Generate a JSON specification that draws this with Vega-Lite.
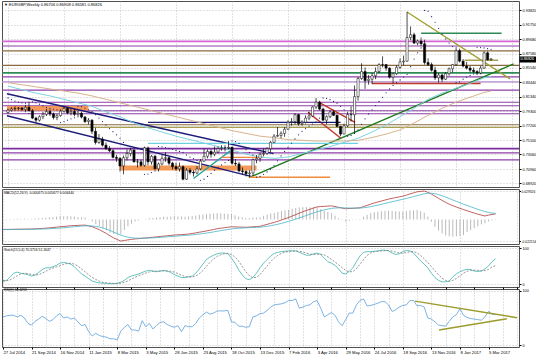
{
"$schema": "https://vega.github.io/schema/vega-lite/v6.json",
"background": "white",
"padding": 0,
"spacing": 2,
"bounds": "flush",
"config": {
  "font": "Liberation Sans",
  "view": {"stroke": "#505050", "strokeWidth": 1},
  "axis": {"labelFont": "Liberation Sans", "labelColor": "#000000"},
  "title": {"font": "Liberation Sans", "fontWeight": "normal", "color": "#000000", "anchor": "start", "frame": "group", "orient": "top"}
},
"datasets": {
"wk": [
{"d":"2014-07-27","o":0.7910,"h":0.7965,"l":0.7895,"c":0.7945,"sar":0.8120,"m":-0.0103,"s":-0.0104,"hi":0.0003,"k":8,"dd":9,"rsi":52},
{"d":"2014-08-03","o":0.7945,"h":0.7985,"l":0.7925,"c":0.7965,"sar":0.8095,"m":-0.0102,"s":-0.0104,"hi":0.0005,"k":10,"dd":9,"rsi":54},
{"d":"2014-08-10","o":0.7965,"h":0.8000,"l":0.7935,"c":0.7970,"sar":0.8075,"m":-0.0102,"s":-0.0103,"hi":0.0003,"k":20,"dd":11.5,"rsi":55},
{"d":"2014-08-17","o":0.7970,"h":0.7990,"l":0.7940,"c":0.7975,"sar":0.8060,"m":-0.0101,"s":-0.0103,"hi":0.0005,"k":30,"dd":17,"rsi":55},
{"d":"2014-08-24","o":0.7975,"h":0.7990,"l":0.7930,"c":0.7955,"sar":0.8050,"m":-0.0100,"s":-0.0103,"hi":0.0008,"k":33,"dd":23,"rsi":52},
{"d":"2014-08-31","o":0.7955,"h":0.8020,"l":0.7915,"c":0.7985,"sar":0.8045,"m":-0.0100,"s":-0.0102,"hi":0.0005,"k":30,"dd":28,"rsi":55},
{"d":"2014-09-07","o":0.7985,"h":0.8065,"l":0.7930,"c":0.7935,"sar":0.7895,"m":-0.0099,"s":-0.0102,"hi":0.0008,"k":28,"dd":30,"rsi":50},
{"d":"2014-09-14","o":0.7935,"h":0.7960,"l":0.7815,"c":0.7830,"sar":0.8065,"m":-0.0099,"s":-0.0101,"hi":0.0005,"k":26,"dd":29,"rsi":40},
{"d":"2014-09-21","o":0.7830,"h":0.7850,"l":0.7765,"c":0.7800,"sar":0.8050,"m":-0.0098,"s":-0.0100,"hi":0.0005,"k":22,"dd":26.5,"rsi":37},
{"d":"2014-09-28","o":0.7800,"h":0.7870,"l":0.7780,"c":0.7850,"sar":0.8030,"m":-0.0096,"s":-0.0100,"hi":0.0010,"k":25,"dd":25,"rsi":44},
{"d":"2014-10-05","o":0.7850,"h":0.7920,"l":0.7815,"c":0.7885,"sar":0.8005,"m":-0.0094,"s":-0.0099,"hi":0.0013,"k":32,"dd":26,"rsi":48},
{"d":"2014-10-12","o":0.7885,"h":0.7965,"l":0.7860,"c":0.7925,"sar":0.7985,"m":-0.0092,"s":-0.0098,"hi":0.0015,"k":40,"dd":30,"rsi":53},
{"d":"2014-10-19","o":0.7925,"h":0.7955,"l":0.7860,"c":0.7890,"sar":0.7970,"m":-0.0090,"s":-0.0097,"hi":0.0018,"k":45,"dd":35.5,"rsi":49},
{"d":"2014-10-26","o":0.7890,"h":0.7910,"l":0.7810,"c":0.7840,"sar":0.7960,"m":-0.0086,"s":-0.0095,"hi":0.0023,"k":45,"dd":40.5,"rsi":44},
{"d":"2014-11-02","o":0.7840,"h":0.7890,"l":0.7800,"c":0.7865,"sar":0.7950,"m":-0.0083,"s":-0.0093,"hi":0.0025,"k":48,"dd":44.5,"rsi":47},
{"d":"2014-11-09","o":0.7865,"h":0.7955,"l":0.7850,"c":0.7930,"sar":0.7765,"m":-0.0079,"s":-0.0091,"hi":0.0030,"k":52,"dd":47.5,"rsi":54},
{"d":"2014-11-16","o":0.7930,"h":0.8000,"l":0.7910,"c":0.7970,"sar":0.7780,"m":-0.0075,"s":-0.0088,"hi":0.0033,"k":58,"dd":50.75,"rsi":58},
{"d":"2014-11-23","o":0.7970,"h":0.7985,"l":0.7885,"c":0.7905,"sar":0.7800,"m":-0.0072,"s":-0.0085,"hi":0.0033,"k":60,"dd":54.5,"rsi":50},
{"d":"2014-11-30","o":0.7905,"h":0.7965,"l":0.7870,"c":0.7925,"sar":0.7820,"m":-0.0068,"s":-0.0082,"hi":0.0035,"k":58,"dd":57,"rsi":52},
{"d":"2014-12-07","o":0.7925,"h":0.7960,"l":0.7855,"c":0.7885,"sar":0.7835,"m":-0.0065,"s":-0.0078,"hi":0.0033,"k":55,"dd":57.75,"rsi":48},
{"d":"2014-12-14","o":0.7885,"h":0.7935,"l":0.7840,"c":0.7900,"sar":0.8000,"m":-0.0062,"s":-0.0074,"hi":0.0030,"k":48,"dd":55.25,"rsi":50},
{"d":"2014-12-21","o":0.7900,"h":0.7920,"l":0.7825,"c":0.7845,"sar":0.7995,"m":-0.0061,"s":-0.0071,"hi":0.0025,"k":38,"dd":49.75,"rsi":43},
{"d":"2014-12-28","o":0.7845,"h":0.7860,"l":0.7760,"c":0.7780,"sar":0.7975,"m":-0.0059,"s":-0.0068,"hi":0.0023,"k":28,"dd":42.25,"rsi":36},
{"d":"2015-01-04","o":0.7780,"h":0.7830,"l":0.7740,"c":0.7800,"sar":0.7950,"m":-0.0058,"s":-0.0066,"hi":0.0020,"k":22,"dd":34,"rsi":38},
{"d":"2015-01-11","o":0.7800,"h":0.7815,"l":0.7600,"c":0.7640,"sar":0.7925,"m":-0.0066,"s":-0.0065,"hi":-0.0003,"k":15,"dd":25.75,"rsi":25},
{"d":"2015-01-18","o":0.7640,"h":0.7690,"l":0.7450,"c":0.7480,"sar":0.7880,"m":-0.0075,"s":-0.0067,"hi":-0.0020,"k":8,"dd":18.25,"rsi":17},
{"d":"2015-01-25","o":0.7480,"h":0.7600,"l":0.7460,"c":0.7525,"sar":0.7830,"m":-0.0090,"s":-0.0071,"hi":-0.0048,"k":5,"dd":12.5,"rsi":22},
{"d":"2015-02-01","o":0.7525,"h":0.7560,"l":0.7420,"c":0.7440,"sar":0.7780,"m":-0.0105,"s":-0.0078,"hi":-0.0068,"k":3,"dd":7.75,"rsi":18},
{"d":"2015-02-08","o":0.7440,"h":0.7480,"l":0.7370,"c":0.7390,"sar":0.7730,"m":-0.0125,"s":-0.0088,"hi":-0.0093,"k":2,"dd":4.5,"rsi":16},
{"d":"2015-02-15","o":0.7390,"h":0.7430,"l":0.7340,"c":0.7360,"sar":0.7680,"m":-0.0145,"s":-0.0100,"hi":-0.0113,"k":2,"dd":3,"rsi":15},
{"d":"2015-02-22","o":0.7360,"h":0.7380,"l":0.7250,"c":0.7265,"sar":0.7635,"m":-0.0168,"s":-0.0114,"hi":-0.0135,"k":1,"dd":2,"rsi":12},
{"d":"2015-03-01","o":0.7265,"h":0.7300,"l":0.7200,"c":0.7250,"sar":0.7590,"m":-0.0190,"s":-0.0130,"hi":-0.0150,"k":1,"dd":1.5,"rsi":12},
{"d":"2015-03-08","o":0.7250,"h":0.7270,"l":0.7060,"c":0.7140,"sar":0.7540,"m":-0.0206,"s":-0.0146,"hi":-0.0150,"k":2,"dd":1.5,"rsi":10},
{"d":"2015-03-15","o":0.7140,"h":0.7290,"l":0.7020,"c":0.7260,"sar":0.7480,"m":-0.0222,"s":-0.0161,"hi":-0.0153,"k":5,"dd":2.25,"rsi":26},
{"d":"2015-03-22","o":0.7260,"h":0.7380,"l":0.7220,"c":0.7320,"sar":0.7435,"m":-0.0216,"s":-0.0173,"hi":-0.0108,"k":10,"dd":4.5,"rsi":33},
{"d":"2015-03-29","o":0.7320,"h":0.7400,"l":0.7280,"c":0.7370,"sar":0.7420,"m":-0.0210,"s":-0.0182,"hi":-0.0070,"k":18,"dd":8.75,"rsi":38},
{"d":"2015-04-05","o":0.7370,"h":0.7380,"l":0.7190,"c":0.7200,"sar":0.7405,"m":-0.0205,"s":-0.0188,"hi":-0.0043,"k":22,"dd":13.75,"rsi":28},
{"d":"2015-04-12","o":0.7200,"h":0.7240,"l":0.7120,"c":0.7200,"sar":0.7390,"m":-0.0200,"s":-0.0192,"hi":-0.0020,"k":25,"dd":18.75,"rsi":28},
{"d":"2015-04-19","o":0.7200,"h":0.7230,"l":0.7130,"c":0.7150,"sar":0.7380,"m":-0.0197,"s":-0.0193,"hi":-0.0010,"k":28,"dd":23.25,"rsi":26},
{"d":"2015-04-26","o":0.7150,"h":0.7420,"l":0.7130,"c":0.7400,"sar":0.7020,"m":-0.0193,"s":-0.0193,"hi":0.0000,"k":32,"dd":26.75,"rsi":45},
{"d":"2015-05-03","o":0.7400,"h":0.7420,"l":0.7150,"c":0.7200,"sar":0.7025,"m":-0.0190,"s":-0.0192,"hi":0.0005,"k":36,"dd":30.25,"rsi":34},
{"d":"2015-05-10","o":0.7200,"h":0.7300,"l":0.7160,"c":0.7280,"sar":0.7045,"m":-0.0186,"s":-0.0191,"hi":0.0013,"k":38,"dd":33.5,"rsi":40},
{"d":"2015-05-17","o":0.7280,"h":0.7300,"l":0.7090,"c":0.7100,"sar":0.7070,"m":-0.0183,"s":-0.0189,"hi":0.0015,"k":36,"dd":35.5,"rsi":30},
{"d":"2015-05-24","o":0.7100,"h":0.7190,"l":0.7060,"c":0.7170,"sar":0.7420,"m":-0.0179,"s":-0.0187,"hi":0.0020,"k":34,"dd":36,"rsi":36},
{"d":"2015-05-31","o":0.7170,"h":0.7300,"l":0.7150,"c":0.7250,"sar":0.7415,"m":-0.0175,"s":-0.0184,"hi":0.0023,"k":36,"dd":36,"rsi":42},
{"d":"2015-06-07","o":0.7250,"h":0.7340,"l":0.7200,"c":0.7260,"sar":0.7405,"m":-0.0171,"s":-0.0182,"hi":0.0028,"k":38,"dd":36,"rsi":43},
{"d":"2015-06-14","o":0.7260,"h":0.7280,"l":0.7150,"c":0.7180,"sar":0.7395,"m":-0.0168,"s":-0.0179,"hi":0.0028,"k":36,"dd":36,"rsi":38},
{"d":"2015-06-21","o":0.7180,"h":0.7200,"l":0.7090,"c":0.7130,"sar":0.7380,"m":-0.0164,"s":-0.0176,"hi":0.0030,"k":32,"dd":35.5,"rsi":35},
{"d":"2015-06-28","o":0.7130,"h":0.7190,"l":0.7070,"c":0.7100,"sar":0.7365,"m":-0.0160,"s":-0.0173,"hi":0.0033,"k":26,"dd":33,"rsi":33},
{"d":"2015-07-05","o":0.7100,"h":0.7190,"l":0.7060,"c":0.7130,"sar":0.7350,"m":-0.0158,"s":-0.0170,"hi":0.0030,"k":22,"dd":29,"rsi":36},
{"d":"2015-07-12","o":0.7130,"h":0.7150,"l":0.6935,"c":0.6950,"sar":0.7335,"m":-0.0155,"s":-0.0167,"hi":0.0030,"k":18,"dd":24.5,"rsi":25},
{"d":"2015-07-19","o":0.6950,"h":0.7110,"l":0.6940,"c":0.7080,"sar":0.7300,"m":-0.0153,"s":-0.0164,"hi":0.0028,"k":18,"dd":21,"rsi":36},
{"d":"2015-07-26","o":0.7080,"h":0.7110,"l":0.7020,"c":0.7050,"sar":0.7270,"m":-0.0150,"s":-0.0162,"hi":0.0030,"k":20,"dd":19.5,"rsi":34},
{"d":"2015-08-02","o":0.7050,"h":0.7080,"l":0.6990,"c":0.7040,"sar":0.7245,"m":-0.0144,"s":-0.0158,"hi":0.0035,"k":22,"dd":19.5,"rsi":34},
{"d":"2015-08-09","o":0.7040,"h":0.7140,"l":0.7020,"c":0.7100,"sar":0.7220,"m":-0.0138,"s":-0.0154,"hi":0.0040,"k":30,"dd":22.5,"rsi":40},
{"d":"2015-08-16","o":0.7100,"h":0.7240,"l":0.7080,"c":0.7210,"sar":0.6935,"m":-0.0131,"s":-0.0150,"hi":0.0048,"k":42,"dd":28.5,"rsi":50},
{"d":"2015-08-23","o":0.7210,"h":0.7390,"l":0.7200,"c":0.7280,"sar":0.6950,"m":-0.0125,"s":-0.0145,"hi":0.0050,"k":55,"dd":37.25,"rsi":56},
{"d":"2015-08-30","o":0.7280,"h":0.7380,"l":0.7250,"c":0.7350,"sar":0.6990,"m":-0.0118,"s":-0.0140,"hi":0.0055,"k":68,"dd":49.25,"rsi":61},
{"d":"2015-09-06","o":0.7350,"h":0.7380,"l":0.7260,"c":0.7310,"sar":0.7035,"m":-0.0110,"s":-0.0134,"hi":0.0060,"k":75,"dd":60,"rsi":57},
{"d":"2015-09-13","o":0.7310,"h":0.7420,"l":0.7280,"c":0.7340,"sar":0.7080,"m":-0.0103,"s":-0.0128,"hi":0.0063,"k":80,"dd":69.5,"rsi":59},
{"d":"2015-09-20","o":0.7340,"h":0.7420,"l":0.7320,"c":0.7390,"sar":0.7120,"m":-0.0095,"s":-0.0121,"hi":0.0065,"k":84,"dd":76.75,"rsi":63},
{"d":"2015-09-27","o":0.7390,"h":0.7440,"l":0.7360,"c":0.7400,"sar":0.7155,"m":-0.0090,"s":-0.0115,"hi":0.0063,"k":86,"dd":81.25,"rsi":63},
{"d":"2015-10-04","o":0.7400,"h":0.7440,"l":0.7350,"c":0.7400,"sar":0.7190,"m":-0.0085,"s":-0.0109,"hi":0.0060,"k":86,"dd":84,"rsi":63},
{"d":"2015-10-11","o":0.7400,"h":0.7500,"l":0.7380,"c":0.7410,"sar":0.7220,"m":-0.0080,"s":-0.0103,"hi":0.0058,"k":84,"dd":85,"rsi":64},
{"d":"2015-10-18","o":0.7410,"h":0.7420,"l":0.7160,"c":0.7180,"sar":0.7500,"m":-0.0075,"s":-0.0097,"hi":0.0055,"k":72,"dd":82,"rsi":43},
{"d":"2015-10-25","o":0.7180,"h":0.7240,"l":0.7140,"c":0.7170,"sar":0.7490,"m":-0.0076,"s":-0.0093,"hi":0.0043,"k":58,"dd":75,"rsi":42},
{"d":"2015-11-01","o":0.7170,"h":0.7200,"l":0.7050,"c":0.7070,"sar":0.7465,"m":-0.0078,"s":-0.0090,"hi":0.0030,"k":40,"dd":64,"rsi":35},
{"d":"2015-11-08","o":0.7070,"h":0.7120,"l":0.7020,"c":0.7060,"sar":0.7420,"m":-0.0079,"s":-0.0088,"hi":0.0023,"k":25,"dd":48.75,"rsi":35},
{"d":"2015-11-15","o":0.7060,"h":0.7080,"l":0.6990,"c":0.7030,"sar":0.7375,"m":-0.0080,"s":-0.0086,"hi":0.0015,"k":15,"dd":34.5,"rsi":33},
{"d":"2015-11-22","o":0.7030,"h":0.7080,"l":0.6980,"c":0.7040,"sar":0.7335,"m":-0.0078,"s":-0.0084,"hi":0.0015,"k":12,"dd":23,"rsi":34},
{"d":"2015-11-29","o":0.7040,"h":0.7250,"l":0.7000,"c":0.7230,"sar":0.7300,"m":-0.0075,"s":-0.0083,"hi":0.0020,"k":18,"dd":17.5,"rsi":52},
{"d":"2015-12-06","o":0.7230,"h":0.7300,"l":0.7180,"c":0.7250,"sar":0.6980,"m":-0.0073,"s":-0.0081,"hi":0.0020,"k":30,"dd":18.75,"rsi":54},
{"d":"2015-12-13","o":0.7250,"h":0.7330,"l":0.7200,"c":0.7310,"sar":0.6990,"m":-0.0070,"s":-0.0079,"hi":0.0023,"k":45,"dd":26.25,"rsi":58},
{"d":"2015-12-20","o":0.7310,"h":0.7390,"l":0.7280,"c":0.7320,"sar":0.7020,"m":-0.0060,"s":-0.0075,"hi":0.0038,"k":58,"dd":37.75,"rsi":59},
{"d":"2015-12-27","o":0.7320,"h":0.7410,"l":0.7300,"c":0.7390,"sar":0.7055,"m":-0.0050,"s":-0.0070,"hi":0.0050,"k":68,"dd":50.25,"rsi":64},
{"d":"2016-01-03","o":0.7390,"h":0.7500,"l":0.7340,"c":0.7480,"sar":0.7095,"m":-0.0040,"s":-0.0064,"hi":0.0060,"k":78,"dd":62.25,"rsi":70},
{"d":"2016-01-10","o":0.7480,"h":0.7600,"l":0.7470,"c":0.7570,"sar":0.7150,"m":-0.0030,"s":-0.0057,"hi":0.0068,"k":85,"dd":72.25,"rsi":74},
{"d":"2016-01-17","o":0.7570,"h":0.7700,"l":0.7560,"c":0.7580,"sar":0.7215,"m":-0.0018,"s":-0.0049,"hi":0.0078,"k":88,"dd":79.75,"rsi":75},
{"d":"2016-01-24","o":0.7580,"h":0.7640,"l":0.7540,"c":0.7610,"sar":0.7285,"m":-0.0005,"s":-0.0040,"hi":0.0088,"k":90,"dd":85.25,"rsi":76},
{"d":"2016-01-31","o":0.7610,"h":0.7700,"l":0.7560,"c":0.7670,"sar":0.7350,"m":0.0008,"s":-0.0030,"hi":0.0095,"k":91,"dd":88.5,"rsi":78},
{"d":"2016-02-07","o":0.7670,"h":0.7800,"l":0.7660,"c":0.7770,"sar":0.7410,"m":0.0020,"s":-0.0020,"hi":0.0100,"k":92,"dd":90.25,"rsi":82},
{"d":"2016-02-14","o":0.7770,"h":0.7830,"l":0.7720,"c":0.7780,"sar":0.7470,"m":0.0035,"s":-0.0009,"hi":0.0110,"k":92,"dd":91.25,"rsi":82},
{"d":"2016-02-21","o":0.7780,"h":0.7900,"l":0.7740,"c":0.7880,"sar":0.7530,"m":0.0050,"s":0.0003,"hi":0.0118,"k":92,"dd":91.75,"rsi":85},
{"d":"2016-02-28","o":0.7880,"h":0.7890,"l":0.7720,"c":0.7750,"sar":0.7590,"m":0.0065,"s":0.0016,"hi":0.0123,"k":88,"dd":91,"rsi":68},
{"d":"2016-03-06","o":0.7750,"h":0.7800,"l":0.7720,"c":0.7770,"sar":0.7640,"m":0.0080,"s":0.0029,"hi":0.0128,"k":84,"dd":89,"rsi":70},
{"d":"2016-03-13","o":0.7770,"h":0.7870,"l":0.7750,"c":0.7830,"sar":0.7680,"m":0.0093,"s":0.0042,"hi":0.0128,"k":80,"dd":86,"rsi":73},
{"d":"2016-03-20","o":0.7830,"h":0.7920,"l":0.7800,"c":0.7860,"sar":0.7715,"m":0.0105,"s":0.0055,"hi":0.0125,"k":80,"dd":83,"rsi":74},
{"d":"2016-03-27","o":0.7860,"h":0.8000,"l":0.7850,"c":0.7990,"sar":0.7745,"m":0.0118,"s":0.0067,"hi":0.0128,"k":84,"dd":82,"rsi":80},
{"d":"2016-04-03","o":0.7990,"h":0.8120,"l":0.7960,"c":0.8060,"sar":0.7775,"m":0.0130,"s":0.0080,"hi":0.0125,"k":86,"dd":82.5,"rsi":82},
{"d":"2016-04-10","o":0.8060,"h":0.8080,"l":0.7940,"c":0.7960,"sar":0.7830,"m":0.0133,"s":0.0090,"hi":0.0108,"k":82,"dd":83,"rsi":68},
{"d":"2016-04-17","o":0.7960,"h":0.7980,"l":0.7790,"c":0.7800,"sar":0.8120,"m":0.0135,"s":0.0099,"hi":0.0090,"k":72,"dd":81,"rsi":52},
{"d":"2016-04-24","o":0.7800,"h":0.7870,"l":0.7740,"c":0.7850,"sar":0.8115,"m":0.0138,"s":0.0107,"hi":0.0078,"k":62,"dd":75.5,"rsi":56},
{"d":"2016-05-01","o":0.7850,"h":0.7940,"l":0.7830,"c":0.7920,"sar":0.8095,"m":0.0140,"s":0.0114,"hi":0.0065,"k":58,"dd":68.5,"rsi":60},
{"d":"2016-05-08","o":0.7920,"h":0.7950,"l":0.7860,"c":0.7870,"sar":0.8070,"m":0.0133,"s":0.0118,"hi":0.0038,"k":52,"dd":61,"rsi":55},
{"d":"2016-05-15","o":0.7870,"h":0.7880,"l":0.7700,"c":0.7710,"sar":0.8045,"m":0.0125,"s":0.0120,"hi":0.0013,"k":42,"dd":53.5,"rsi":43},
{"d":"2016-05-22","o":0.7710,"h":0.7720,"l":0.7570,"c":0.7600,"sar":0.8000,"m":0.0118,"s":0.0120,"hi":-0.0005,"k":30,"dd":45.5,"rsi":36},
{"d":"2016-05-29","o":0.7600,"h":0.7750,"l":0.7600,"c":0.7720,"sar":0.7950,"m":0.0110,"s":0.0119,"hi":-0.0023,"k":28,"dd":38,"rsi":47},
{"d":"2016-06-05","o":0.7720,"h":0.7920,"l":0.7700,"c":0.7880,"sar":0.7570,"m":0.0113,"s":0.0118,"hi":-0.0013,"k":35,"dd":33.75,"rsi":59},
{"d":"2016-06-12","o":0.7880,"h":0.8000,"l":0.7780,"c":0.7880,"sar":0.7580,"m":0.0115,"s":0.0117,"hi":-0.0005,"k":45,"dd":34.5,"rsi":59},
{"d":"2016-06-19","o":0.7880,"h":0.8300,"l":0.7620,"c":0.8140,"sar":0.7610,"m":0.0118,"s":0.0117,"hi":0.0003,"k":62,"dd":42.5,"rsi":74},
{"d":"2016-06-26","o":0.8140,"h":0.8420,"l":0.8080,"c":0.8400,"sar":0.7660,"m":0.0120,"s":0.0118,"hi":0.0005,"k":78,"dd":55,"rsi":82},
{"d":"2016-07-03","o":0.8400,"h":0.8620,"l":0.8380,"c":0.8500,"sar":0.7740,"m":0.0133,"s":0.0121,"hi":0.0030,"k":88,"dd":68.25,"rsi":85},
{"d":"2016-07-10","o":0.8500,"h":0.8560,"l":0.8250,"c":0.8370,"sar":0.7820,"m":0.0145,"s":0.0126,"hi":0.0048,"k":90,"dd":79.5,"rsi":72},
{"d":"2016-07-17","o":0.8370,"h":0.8450,"l":0.8310,"c":0.8390,"sar":0.7890,"m":0.0158,"s":0.0132,"hi":0.0065,"k":90,"dd":86.5,"rsi":73},
{"d":"2016-07-24","o":0.8390,"h":0.8480,"l":0.8320,"c":0.8440,"sar":0.7950,"m":0.0170,"s":0.0140,"hi":0.0075,"k":91,"dd":89.75,"rsi":75},
{"d":"2016-07-31","o":0.8440,"h":0.8560,"l":0.8390,"c":0.8500,"sar":0.8010,"m":0.0180,"s":0.0148,"hi":0.0080,"k":92,"dd":90.75,"rsi":77},
{"d":"2016-08-07","o":0.8500,"h":0.8620,"l":0.8480,"c":0.8600,"sar":0.8070,"m":0.0190,"s":0.0156,"hi":0.0085,"k":94,"dd":91.75,"rsi":80},
{"d":"2016-08-14","o":0.8600,"h":0.8720,"l":0.8560,"c":0.8600,"sar":0.8130,"m":0.0200,"s":0.0165,"hi":0.0088,"k":94,"dd":92.75,"rsi":80},
{"d":"2016-08-21","o":0.8600,"h":0.8610,"l":0.8510,"c":0.8550,"sar":0.8195,"m":0.0210,"s":0.0174,"hi":0.0090,"k":92,"dd":93,"rsi":74},
{"d":"2016-08-28","o":0.8550,"h":0.8560,"l":0.8400,"c":0.8420,"sar":0.8250,"m":0.0218,"s":0.0183,"hi":0.0088,"k":86,"dd":91.5,"rsi":62},
{"d":"2016-09-04","o":0.8420,"h":0.8480,"l":0.8330,"c":0.8470,"sar":0.8300,"m":0.0225,"s":0.0191,"hi":0.0085,"k":82,"dd":88.5,"rsi":65},
{"d":"2016-09-11","o":0.8470,"h":0.8590,"l":0.8450,"c":0.8560,"sar":0.8340,"m":0.0233,"s":0.0200,"hi":0.0083,"k":84,"dd":86,"rsi":70},
{"d":"2016-09-18","o":0.8560,"h":0.8690,"l":0.8540,"c":0.8640,"sar":0.8380,"m":0.0240,"s":0.0208,"hi":0.0080,"k":90,"dd":85.5,"rsi":73},
{"d":"2016-09-25","o":0.8640,"h":0.8730,"l":0.8590,"c":0.8650,"sar":0.8420,"m":0.0251,"s":0.0217,"hi":0.0085,"k":93,"dd":87.25,"rsi":74},
{"d":"2016-10-02","o":0.8650,"h":0.9360,"l":0.8640,"c":0.8990,"sar":0.8460,"m":0.0263,"s":0.0226,"hi":0.0093,"k":92,"dd":89.75,"rsi":82},
{"d":"2016-10-09","o":0.8990,"h":0.9150,"l":0.8950,"c":0.9030,"sar":0.8570,"m":0.0274,"s":0.0236,"hi":0.0095,"k":86,"dd":90.25,"rsi":82},
{"d":"2016-10-16","o":0.9030,"h":0.9060,"l":0.8900,"c":0.8910,"sar":0.8680,"m":0.0285,"s":0.0246,"hi":0.0098,"k":75,"dd":86.5,"rsi":72},
{"d":"2016-10-23","o":0.8910,"h":0.8960,"l":0.8880,"c":0.8940,"sar":0.8770,"m":0.0289,"s":0.0255,"hi":0.0085,"k":64,"dd":79.25,"rsi":73},
{"d":"2016-10-30","o":0.8940,"h":0.8990,"l":0.8870,"c":0.8900,"sar":0.8840,"m":0.0293,"s":0.0265,"hi":0.0070,"k":55,"dd":70,"rsi":70},
{"d":"2016-11-06","o":0.8900,"h":0.8960,"l":0.8600,"c":0.8630,"sar":0.9380,"m":0.0280,"s":0.0270,"hi":0.0030,"k":45,"dd":59.75,"rsi":50},
{"d":"2016-11-13","o":0.8630,"h":0.8690,"l":0.8580,"c":0.8600,"sar":0.9370,"m":0.0262,"s":0.0270,"hi":-0.0024,"k":30,"dd":48.5,"rsi":48},
{"d":"2016-11-20","o":0.8600,"h":0.8630,"l":0.8500,"c":0.8520,"sar":0.9290,"m":0.0240,"s":0.0265,"hi":-0.0075,"k":18,"dd":37,"rsi":43},
{"d":"2016-11-27","o":0.8520,"h":0.8570,"l":0.8380,"c":0.8410,"sar":0.9210,"m":0.0218,"s":0.0256,"hi":-0.0114,"k":10,"dd":25.75,"rsi":37},
{"d":"2016-12-04","o":0.8410,"h":0.8480,"l":0.8340,"c":0.8450,"sar":0.9120,"m":0.0196,"s":0.0244,"hi":-0.0144,"k":6,"dd":16,"rsi":36},
{"d":"2016-12-11","o":0.8450,"h":0.8470,"l":0.8350,"c":0.8390,"sar":0.9040,"m":0.0176,"s":0.0231,"hi":-0.0165,"k":6,"dd":10,"rsi":35},
{"d":"2016-12-18","o":0.8390,"h":0.8490,"l":0.8380,"c":0.8470,"sar":0.8970,"m":0.0158,"s":0.0216,"hi":-0.0174,"k":8,"dd":7.5,"rsi":44},
{"d":"2016-12-25","o":0.8470,"h":0.8560,"l":0.8440,"c":0.8540,"sar":0.8910,"m":0.0142,"s":0.0201,"hi":-0.0177,"k":20,"dd":10,"rsi":52},
{"d":"2017-01-01","o":0.8540,"h":0.8610,"l":0.8490,"c":0.8600,"sar":0.8860,"m":0.0128,"s":0.0186,"hi":-0.0174,"k":28,"dd":15.5,"rsi":56},
{"d":"2017-01-08","o":0.8600,"h":0.8850,"l":0.8580,"c":0.8800,"sar":0.8340,"m":0.0115,"s":0.0172,"hi":-0.0171,"k":34,"dd":22.5,"rsi":67},
{"d":"2017-01-15","o":0.8800,"h":0.8830,"l":0.8630,"c":0.8650,"sar":0.8350,"m":0.0102,"s":0.0158,"hi":-0.0160,"k":38,"dd":30,"rsi":55},
{"d":"2017-01-22","o":0.8650,"h":0.8680,"l":0.8560,"c":0.8580,"sar":0.8390,"m":0.0090,"s":0.0144,"hi":-0.0130,"k":41,"dd":35.25,"rsi":51},
{"d":"2017-01-29","o":0.8580,"h":0.8640,"l":0.8530,"c":0.8550,"sar":0.8420,"m":0.0078,"s":0.0131,"hi":-0.0110,"k":40,"dd":38.25,"rsi":49},
{"d":"2017-02-05","o":0.8550,"h":0.8580,"l":0.8490,"c":0.8520,"sar":0.8445,"m":0.0066,"s":0.0118,"hi":-0.0090,"k":36,"dd":38.75,"rsi":48},
{"d":"2017-02-12","o":0.8520,"h":0.8560,"l":0.8480,"c":0.8500,"sar":0.8465,"m":0.0055,"s":0.0105,"hi":-0.0070,"k":35,"dd":38,"rsi":47},
{"d":"2017-02-19","o":0.8500,"h":0.8520,"l":0.8450,"c":0.8480,"sar":0.8850,"m":0.0045,"s":0.0093,"hi":-0.0050,"k":36,"dd":36.75,"rsi":46},
{"d":"2017-02-26","o":0.8480,"h":0.8580,"l":0.8460,"c":0.8550,"sar":0.8845,"m":0.0036,"s":0.0082,"hi":-0.0040,"k":42,"dd":37.25,"rsi":52},
{"d":"2017-03-05","o":0.8550,"h":0.8790,"l":0.8540,"c":0.8770,"sar":0.8840,"m":0.0045,"s":0.0073,"hi":-0.0020,"k":50,"dd":40.75,"rsi":62},
{"d":"2017-03-12","o":0.8770,"h":0.8790,"l":0.8660,"c":0.8670,"sar":0.8830,"m":0.0052,"s":0.0066,"hi":-0.0010,"k":62,"dd":47.5,"rsi":57},
{"d":"2017-03-19","o":0.86706,"h":0.86908,"l":0.86581,"c":0.86826,"sar":0.8820,"m":0.0057,"s":0.0064,"hi":-0.0005,"k":70.37,"dd":51.16,"rsi":56}
],
"ma": [
{"d":"2014-07-27","a":0.829,"b":0.834},{"d":"2014-08-24","a":0.824,"b":0.831},{"d":"2014-09-21","a":0.819,"b":0.828},{"d":"2014-10-19","a":0.815,"b":0.825},
{"d":"2014-11-16","a":0.810,"b":0.822},{"d":"2014-12-14","a":0.805,"b":0.819},{"d":"2015-01-11","a":0.800,"b":0.815},{"d":"2015-02-08","a":0.792,"b":0.810},
{"d":"2015-03-08","a":0.785,"b":0.805},{"d":"2015-04-05","a":0.776,"b":0.800},{"d":"2015-05-03","a":0.769,"b":0.795},{"d":"2015-05-31","a":0.763,"b":0.790},
{"d":"2015-06-28","a":0.757,"b":0.785},{"d":"2015-07-26","a":0.752,"b":0.780},{"d":"2015-08-23","a":0.747,"b":0.775},{"d":"2015-09-20","a":0.742,"b":0.770},
{"d":"2015-10-18","a":0.737,"b":0.765},{"d":"2015-11-15","a":0.731,"b":0.761},{"d":"2015-12-13","a":0.727,"b":0.757},{"d":"2016-01-10","a":0.725,"b":0.755},
{"d":"2016-02-07","a":0.727,"b":0.752},{"d":"2016-03-06","a":0.732,"b":0.751},{"d":"2016-04-03","a":0.737,"b":0.750},{"d":"2016-05-01","a":0.742,"b":0.750},
{"d":"2016-05-29","a":0.748,"b":0.750},{"d":"2016-06-26","a":0.754,"b":0.751},{"d":"2016-07-24","a":0.763,"b":0.755},{"d":"2016-08-21","a":0.773,"b":0.760},
{"d":"2016-09-18","a":0.785,"b":0.766},{"d":"2016-10-16","a":0.797,"b":0.776},{"d":"2016-11-13","a":0.810,"b":0.787},{"d":"2016-12-11","a":0.819,"b":0.797},
{"d":"2017-01-08","a":0.826,"b":0.806},{"d":"2017-02-05","a":0.833,"b":0.813},{"d":"2017-03-05","a":0.841,"b":0.820},{"d":"2017-03-19","a":0.843,"b":0.822}
],
"levels": [
{"p":0.8934,"set":"a"},{"p":0.8869,"set":"b"},{"p":0.8798,"set":"d"},{"p":0.8589,"set":"d"},{"p":0.8482,"set":"f"},
{"p":0.8424,"set":"b"},{"p":0.8352,"set":"c"},{"p":0.8233,"set":"b"},{"p":0.8058,"set":"b"},{"p":0.8008,"set":"b"},
{"p":0.7936,"set":"b"},{"p":0.7893,"set":"b"},{"p":0.7735,"set":"d"},{"p":0.7696,"set":"e"},{"p":0.7390,"set":"n"},
{"p":0.7329,"set":"b"},{"p":0.7228,"set":"b"}
],
"segs": [
{"d1":"2014-07-25","p1":0.8180,"d2":"2016-01-09","p2":0.7318,"set":"g"},
{"d1":"2014-07-25","p1":0.7864,"d2":"2015-11-27","p2":0.6988,"set":"g"},
{"d1":"2015-11-21","p1":0.6974,"d2":"2017-05-03","p2":0.8611,"set":"m"},
{"d1":"2016-10-02","p1":0.9358,"d2":"2017-04-26","p2":0.8396,"set":"l"},
{"d1":"2016-03-18","p1":0.7912,"d2":"2016-05-22","p2":0.7544,"set":"i"},
{"d1":"2016-04-09","p1":0.8055,"d2":"2016-06-20","p2":0.7768,"set":"i"},
{"d1":"2015-08-02","p1":0.6960,"d2":"2015-10-15","p2":0.7362,"set":"k"},
{"d1":"2015-05-03","p1":0.7768,"d2":"2016-05-22","p2":0.7768,"set":"g"},
{"d1":"2015-05-03","p1":0.7466,"d2":"2016-06-26","p2":0.7466,"set":"h"},
{"d1":"2016-10-30","p1":0.9052,"d2":"2017-04-09","p2":0.9052,"set":"f"},
{"d1":"2016-07-24","p1":0.8328,"d2":"2017-02-26","p2":0.8328,"set":"i"},
{"d1":"2017-01-25","p1":0.8664,"d2":"2017-04-02","p2":0.8664,"set":"e"},
{"d1":"2015-11-22","p1":0.6978,"d2":"2016-05-01","p2":0.6978,"set":"j"},
{"d1":"2015-09-27","p1":0.7265,"d2":"2015-12-20","p2":0.7265,"set":"j"}
],
"zones": [
{"d1":"2014-07-25","d2":"2015-01-04","p1":0.8006,"p2":0.7935,"set":"j"},
{"d1":"2015-03-08","d2":"2015-12-06","p1":0.7146,"p2":0.7074,"set":"j"}
],
"rsegs": [
{"d1":"2016-10-12","r1":81,"d2":"2017-04-30","r2":50.5},
{"d1":"2016-11-28","r1":28,"d2":"2017-04-10","r2":48.7}
]
},
"vconcat": [
{
"width": 517, "height": 186,
"title": {"text": "▼ EURGBP,Weekly  0.86706 0.86908 0.86581 0.86826", "offset": -6, "dx": 2, "fontSize": 4},
"resolve": {"axis": {"y": "independent"}},
"layer": [
{"data": {"name": "levels"}, "transform": [{"filter": {"field": "set", "oneOf": ["a","f","n"]}}],
 "mark": {"type": "rule", "strokeWidth": 1.8},
 "encoding": {
  "y": {"field": "p", "type": "quantitative", "title": null, "scale": {"domain": [0.6838, 0.9516], "zero": false, "nice": false},
   "axis": {"orient": "right", "values": [0.9382,0.9175,0.8968,0.8758,0.8554,0.8344,0.8134,0.793,0.772,0.751,0.7306,0.7096,0.6892], "format": ".5f", "grid": true, "gridColor": "#a0a0a0", "gridDash": [1,2], "gridWidth": 0.6, "tickSize": 2, "tickColor": "#000000", "labelPadding": 1, "labelFontSize": 3.8, "domain": false, "title": null}},
  "color": {"field": "set", "type": "nominal", "legend": null, "scale": {"domain": ["a","b","c","d","e","f","g","h","i","j","k","l","m","n"], "range": ["#d565d5","#8e3ea8","#b48ad0","#8b6a3e","#a8a050","#2e8b57","#1c1c7a","#6fd0e0","#c0392b","#f28a3c","#21a89a","#a0a030","#1e7b1e","#7b2f9e"]}}
 }},
{"data": {"name": "levels"}, "transform": [{"filter": {"not": {"field": "set", "oneOf": ["a","f","n"]}}}],
 "mark": {"type": "rule", "strokeWidth": 1.1},
 "encoding": {
  "y": {"field": "p", "type": "quantitative", "title": null, "scale": {"domain": [0.6838, 0.9516], "zero": false, "nice": false}, "axis": null},
  "color": {"field": "set", "type": "nominal", "legend": null, "scale": {"domain": ["a","b","c","d","e","f","g","h","i","j","k","l","m","n"], "range": ["#d565d5","#8e3ea8","#b48ad0","#8b6a3e","#a8a050","#2e8b57","#1c1c7a","#6fd0e0","#c0392b","#f28a3c","#21a89a","#a0a030","#1e7b1e","#7b2f9e"]}}
 }},
{"data": {"name": "zones"},
 "mark": {"type": "rect", "opacity": 0.85, "clip": true},
 "encoding": {
  "x": {"field": "d1", "type": "temporal", "title": null, "scale": {"type": "utc", "domain": [{"year":2014,"month":7,"date":25,"hours":2,"utc":true},{"year":2017,"month":5,"date":3,"hours":19,"utc":true}]}},
  "x2": {"field": "d2"},
  "y": {"field": "p1", "type": "quantitative", "title": null, "scale": {"domain": [0.6838, 0.9516], "zero": false, "nice": false}, "axis": null},
  "y2": {"field": "p2"},
  "color": {"field": "set", "type": "nominal", "legend": null, "scale": {"domain": ["a","b","c","d","e","f","g","h","i","j","k","l","m","n"], "range": ["#d565d5","#8e3ea8","#b48ad0","#8b6a3e","#a8a050","#2e8b57","#1c1c7a","#6fd0e0","#c0392b","#f28a3c","#21a89a","#a0a030","#1e7b1e","#7b2f9e"]}}
 }},
{"data": {"name": "segs"},
 "mark": {"type": "rule", "strokeWidth": 1.4, "clip": true},
 "encoding": {
  "x": {"field": "d1", "type": "temporal", "title": null},
  "x2": {"field": "d2"},
  "y": {"field": "p1", "type": "quantitative", "title": null, "axis": null},
  "y2": {"field": "p2"},
  "color": {"field": "set", "type": "nominal", "legend": null, "scale": {"domain": ["a","b","c","d","e","f","g","h","i","j","k","l","m","n"], "range": ["#d565d5","#8e3ea8","#b48ad0","#8b6a3e","#a8a050","#2e8b57","#1c1c7a","#6fd0e0","#c0392b","#f28a3c","#21a89a","#a0a030","#1e7b1e","#7b2f9e"]}}
 }},
{"data": {"name": "ma"},
 "mark": {"type": "line", "color": "#7fd4e2", "strokeWidth": 1, "clip": true},
 "encoding": {"x": {"field": "d", "type": "temporal", "title": null}, "y": {"field": "a", "type": "quantitative", "title": null, "axis": null}}},
{"data": {"name": "ma"},
 "mark": {"type": "line", "color": "#d8b48c", "strokeWidth": 1, "clip": true},
 "encoding": {"x": {"field": "d", "type": "temporal", "title": null}, "y": {"field": "b", "type": "quantitative", "title": null, "axis": null}}},
{"data": {"name": "wk"},
 "mark": {"type": "point", "filled": true, "size": 1.5, "color": "#1a237e", "opacity": 1},
 "encoding": {"x": {"field": "d", "type": "temporal", "title": null}, "y": {"field": "sar", "type": "quantitative", "title": null, "axis": null}}},
{"data": {"name": "wk"},
 "mark": {"type": "rule", "color": "#000000", "strokeWidth": 0.7},
 "encoding": {
  "x": {"field": "d", "type": "temporal", "title": null,
   "axis": {"values": [{"year":2014,"month":7,"date":27,"utc":true},{"year":2014,"month":8,"date":24,"utc":true},{"year":2014,"month":9,"date":21,"utc":true},{"year":2014,"month":10,"date":19,"utc":true},{"year":2014,"month":11,"date":16,"utc":true},{"year":2014,"month":12,"date":14,"utc":true},{"year":2015,"month":1,"date":11,"utc":true},{"year":2015,"month":2,"date":8,"utc":true},{"year":2015,"month":3,"date":8,"utc":true},{"year":2015,"month":4,"date":5,"utc":true},{"year":2015,"month":5,"date":3,"utc":true},{"year":2015,"month":5,"date":31,"utc":true},{"year":2015,"month":6,"date":28,"utc":true},{"year":2015,"month":7,"date":26,"utc":true},{"year":2015,"month":8,"date":23,"utc":true},{"year":2015,"month":9,"date":20,"utc":true},{"year":2015,"month":10,"date":18,"utc":true},{"year":2015,"month":11,"date":15,"utc":true},{"year":2015,"month":12,"date":13,"utc":true},{"year":2016,"month":1,"date":10,"utc":true},{"year":2016,"month":2,"date":7,"utc":true},{"year":2016,"month":3,"date":6,"utc":true},{"year":2016,"month":4,"date":3,"utc":true},{"year":2016,"month":5,"date":1,"utc":true},{"year":2016,"month":5,"date":29,"utc":true},{"year":2016,"month":6,"date":26,"utc":true},{"year":2016,"month":7,"date":24,"utc":true},{"year":2016,"month":8,"date":21,"utc":true},{"year":2016,"month":9,"date":18,"utc":true},{"year":2016,"month":10,"date":16,"utc":true},{"year":2016,"month":11,"date":13,"utc":true},{"year":2016,"month":12,"date":11,"utc":true},{"year":2017,"month":1,"date":8,"utc":true},{"year":2017,"month":2,"date":5,"utc":true},{"year":2017,"month":3,"date":5,"utc":true},{"year":2017,"month":4,"date":2,"utc":true},{"year":2017,"month":4,"date":30,"utc":true}],
    "labels": false, "ticks": false, "domain": false, "grid": true, "gridColor": "#a0a0a0", "gridDash": [1,2], "gridWidth": 0.6, "title": null}},
  "y": {"field": "l", "type": "quantitative", "title": null, "axis": null},
  "y2": {"field": "h"}
 }},
{"data": {"name": "wk"},
 "mark": {"type": "bar", "size": 2.2, "stroke": "#000000", "strokeWidth": 0.5},
 "encoding": {
  "x": {"field": "d", "type": "temporal", "title": null},
  "y": {"field": "o", "type": "quantitative", "title": null,
   "axis": {"orient": "right", "values": [0.86826], "format": ".5f", "grid": false, "tickSize": 19, "tickWidth": 6, "tickColor": "#000000", "labelColor": "#ffffff", "labelPadding": -18, "labelFontSize": 3.8, "domain": false, "title": null}},
  "y2": {"field": "c"},
  "fill": {"condition": {"test": "datum.c >= datum.o", "value": "#ffffff"}, "value": "#000000"}
 }}
]
},
{
"width": 517, "height": 55,
"title": {"text": "MACD(12,26,9) -0.000475 0.005677 0.006440", "offset": -5, "dx": 2, "fontSize": 3.4},
"data": {"name": "wk"},
"layer": [
{"mark": {"type": "rule", "color": "#a8a8a8", "strokeWidth": 0.8},
 "encoding": {
  "x": {"field": "d", "type": "temporal", "title": null, "scale": {"type": "utc", "domain": [{"year":2014,"month":7,"date":25,"hours":2,"utc":true},{"year":2017,"month":5,"date":3,"hours":19,"utc":true}]},
   "axis": {"values": [{"year":2014,"month":7,"date":27,"utc":true},{"year":2014,"month":8,"date":24,"utc":true},{"year":2014,"month":9,"date":21,"utc":true},{"year":2014,"month":10,"date":19,"utc":true},{"year":2014,"month":11,"date":16,"utc":true},{"year":2014,"month":12,"date":14,"utc":true},{"year":2015,"month":1,"date":11,"utc":true},{"year":2015,"month":2,"date":8,"utc":true},{"year":2015,"month":3,"date":8,"utc":true},{"year":2015,"month":4,"date":5,"utc":true},{"year":2015,"month":5,"date":3,"utc":true},{"year":2015,"month":5,"date":31,"utc":true},{"year":2015,"month":6,"date":28,"utc":true},{"year":2015,"month":7,"date":26,"utc":true},{"year":2015,"month":8,"date":23,"utc":true},{"year":2015,"month":9,"date":20,"utc":true},{"year":2015,"month":10,"date":18,"utc":true},{"year":2015,"month":11,"date":15,"utc":true},{"year":2015,"month":12,"date":13,"utc":true},{"year":2016,"month":1,"date":10,"utc":true},{"year":2016,"month":2,"date":7,"utc":true},{"year":2016,"month":3,"date":6,"utc":true},{"year":2016,"month":4,"date":3,"utc":true},{"year":2016,"month":5,"date":1,"utc":true},{"year":2016,"month":5,"date":29,"utc":true},{"year":2016,"month":6,"date":26,"utc":true},{"year":2016,"month":7,"date":24,"utc":true},{"year":2016,"month":8,"date":21,"utc":true},{"year":2016,"month":9,"date":18,"utc":true},{"year":2016,"month":10,"date":16,"utc":true},{"year":2016,"month":11,"date":13,"utc":true},{"year":2016,"month":12,"date":11,"utc":true},{"year":2017,"month":1,"date":8,"utc":true},{"year":2017,"month":2,"date":5,"utc":true},{"year":2017,"month":3,"date":5,"utc":true},{"year":2017,"month":4,"date":2,"utc":true},{"year":2017,"month":4,"date":30,"utc":true}],
    "labels": false, "ticks": false, "domain": false, "grid": true, "gridColor": "#a0a0a0", "gridDash": [1,2], "gridWidth": 0.6, "title": null}},
  "y": {"field": "hi", "type": "quantitative", "title": null, "scale": {"domain": [-0.02524, 0.03139], "zero": false, "nice": false},
   "axis": {"orient": "right", "values": [0.029326, 0, -0.022154], "labelExpr": "datum.value == 0 ? '0.00' : (datum.value < 0 ? '-' + format(-datum.value, '.6f') : format(datum.value, '.6f'))", "grid": true, "gridColor": "#a0a0a0", "gridDash": [1,2], "gridWidth": 0.6, "tickSize": 1.5, "tickColor": "#000000", "labelPadding": 0.5, "labelFontSize": 3.3, "domain": false, "title": null}},
  "y2": {"datum": 0}
 }},
{"mark": {"type": "line", "color": "#b03a3a", "strokeWidth": 0.8},
 "encoding": {"x": {"field": "d", "type": "temporal", "title": null}, "y": {"field": "m", "type": "quantitative", "title": null}}},
{"mark": {"type": "line", "color": "#45b5c8", "strokeWidth": 0.8},
 "encoding": {"x": {"field": "d", "type": "temporal", "title": null}, "y": {"field": "s", "type": "quantitative", "title": null}}}
]
},
{
"width": 517, "height": 41,
"title": {"text": "Stoch(15,5,4) 70.3716 51.1647", "offset": -5, "dx": 2, "fontSize": 3.4},
"data": {"name": "wk"},
"layer": [
{"mark": {"type": "line", "color": "#3cb4ac", "strokeWidth": 0.8},
 "encoding": {
  "x": {"field": "d", "type": "temporal", "title": null, "scale": {"type": "utc", "domain": [{"year":2014,"month":7,"date":25,"hours":2,"utc":true},{"year":2017,"month":5,"date":3,"hours":19,"utc":true}]},
   "axis": {"values": [{"year":2014,"month":7,"date":27,"utc":true},{"year":2014,"month":8,"date":24,"utc":true},{"year":2014,"month":9,"date":21,"utc":true},{"year":2014,"month":10,"date":19,"utc":true},{"year":2014,"month":11,"date":16,"utc":true},{"year":2014,"month":12,"date":14,"utc":true},{"year":2015,"month":1,"date":11,"utc":true},{"year":2015,"month":2,"date":8,"utc":true},{"year":2015,"month":3,"date":8,"utc":true},{"year":2015,"month":4,"date":5,"utc":true},{"year":2015,"month":5,"date":3,"utc":true},{"year":2015,"month":5,"date":31,"utc":true},{"year":2015,"month":6,"date":28,"utc":true},{"year":2015,"month":7,"date":26,"utc":true},{"year":2015,"month":8,"date":23,"utc":true},{"year":2015,"month":9,"date":20,"utc":true},{"year":2015,"month":10,"date":18,"utc":true},{"year":2015,"month":11,"date":15,"utc":true},{"year":2015,"month":12,"date":13,"utc":true},{"year":2016,"month":1,"date":10,"utc":true},{"year":2016,"month":2,"date":7,"utc":true},{"year":2016,"month":3,"date":6,"utc":true},{"year":2016,"month":4,"date":3,"utc":true},{"year":2016,"month":5,"date":1,"utc":true},{"year":2016,"month":5,"date":29,"utc":true},{"year":2016,"month":6,"date":26,"utc":true},{"year":2016,"month":7,"date":24,"utc":true},{"year":2016,"month":8,"date":21,"utc":true},{"year":2016,"month":9,"date":18,"utc":true},{"year":2016,"month":10,"date":16,"utc":true},{"year":2016,"month":11,"date":13,"utc":true},{"year":2016,"month":12,"date":11,"utc":true},{"year":2017,"month":1,"date":8,"utc":true},{"year":2017,"month":2,"date":5,"utc":true},{"year":2017,"month":3,"date":5,"utc":true},{"year":2017,"month":4,"date":2,"utc":true},{"year":2017,"month":4,"date":30,"utc":true}],
    "labels": false, "ticks": false, "domain": false, "grid": true, "gridColor": "#a0a0a0", "gridDash": [1,2], "gridWidth": 0.6, "title": null}},
  "y": {"field": "k", "type": "quantitative", "title": null, "scale": {"domain": [-8.3, 105.6], "zero": false, "nice": false},
   "axis": {"orient": "right", "values": [100, 80, 20, 0], "format": "d", "grid": true, "gridColor": "#a0a0a0", "gridDash": [1,2], "gridWidth": 0.6, "tickSize": 2, "tickColor": "#000000", "labelPadding": 1, "labelFontSize": 3.8, "domain": false, "title": null}}
 }},
{"mark": {"type": "line", "color": "#7a7a7a", "strokeWidth": 0.8, "strokeDash": [2, 1.5]},
 "encoding": {"x": {"field": "d", "type": "temporal", "title": null}, "y": {"field": "dd", "type": "quantitative", "title": null}}}
]
},
{
"width": 517, "height": 58,
"title": {"text": "RSI(9) 54.4292", "offset": -5, "dx": 2, "fontSize": 3.4},
"resolve": {"axis": {"x": "independent"}},
"layer": [
{"data": {"name": "wk"},
 "mark": {"type": "line", "color": "#5aa0dc", "strokeWidth": 0.8},
 "encoding": {
  "x": {"field": "d", "type": "temporal", "title": null, "scale": {"type": "utc", "domain": [{"year":2014,"month":7,"date":25,"hours":2,"utc":true},{"year":2017,"month":5,"date":3,"hours":19,"utc":true}]},
   "axis": {"values": [{"year":2014,"month":7,"date":27,"utc":true},{"year":2014,"month":9,"date":21,"utc":true},{"year":2014,"month":11,"date":16,"utc":true},{"year":2015,"month":1,"date":11,"utc":true},{"year":2015,"month":3,"date":8,"utc":true},{"year":2015,"month":5,"date":3,"utc":true},{"year":2015,"month":6,"date":28,"utc":true},{"year":2015,"month":8,"date":23,"utc":true},{"year":2015,"month":10,"date":18,"utc":true},{"year":2015,"month":12,"date":13,"utc":true},{"year":2016,"month":2,"date":7,"utc":true},{"year":2016,"month":4,"date":3,"utc":true},{"year":2016,"month":5,"date":29,"utc":true},{"year":2016,"month":7,"date":24,"utc":true},{"year":2016,"month":9,"date":18,"utc":true},{"year":2016,"month":11,"date":13,"utc":true},{"year":2017,"month":1,"date":8,"utc":true},{"year":2017,"month":3,"date":5,"utc":true}],
    "format": "%-d %b %Y", "labelAlign": "left", "labelFontSize": 4.2, "labelPadding": 1, "labelFlush": false, "labelOverlap": false,
    "ticks": true, "tickSize": 2, "tickColor": "#000000", "domain": false, "grid": true, "gridColor": "#a0a0a0", "gridDash": [1,2], "gridWidth": 0.6, "title": null}},
  "y": {"field": "rsi", "type": "quantitative", "title": null, "scale": {"domain": [-3.1, 103.1], "zero": false, "nice": false},
   "axis": {"orient": "right", "values": [100, 70, 30, 0], "format": "d", "grid": true, "gridColor": "#a0a0a0", "gridDash": [1,2], "gridWidth": 0.6, "tickSize": 2, "tickColor": "#000000", "labelPadding": 1, "labelFontSize": 3.8, "domain": false, "title": null}}
 }},
{"data": {"name": "rsegs"},
 "mark": {"type": "rule", "color": "#9c9c2c", "strokeWidth": 1.4},
 "encoding": {
  "x": {"field": "d1", "type": "temporal", "title": null,
   "axis": {"values": [{"year":2014,"month":8,"date":24,"utc":true},{"year":2014,"month":10,"date":19,"utc":true},{"year":2014,"month":12,"date":14,"utc":true},{"year":2015,"month":2,"date":8,"utc":true},{"year":2015,"month":4,"date":5,"utc":true},{"year":2015,"month":5,"date":31,"utc":true},{"year":2015,"month":7,"date":26,"utc":true},{"year":2015,"month":9,"date":20,"utc":true},{"year":2015,"month":11,"date":15,"utc":true},{"year":2016,"month":1,"date":10,"utc":true},{"year":2016,"month":3,"date":6,"utc":true},{"year":2016,"month":5,"date":1,"utc":true},{"year":2016,"month":6,"date":26,"utc":true},{"year":2016,"month":8,"date":21,"utc":true},{"year":2016,"month":10,"date":16,"utc":true},{"year":2016,"month":12,"date":11,"utc":true},{"year":2017,"month":2,"date":5,"utc":true},{"year":2017,"month":4,"date":2,"utc":true},{"year":2017,"month":4,"date":30,"utc":true}],
    "labels": false, "ticks": true, "tickSize": 2, "tickColor": "#000000", "domain": false, "grid": true, "gridColor": "#a0a0a0", "gridDash": [1,2], "gridWidth": 0.6, "title": null}},
  "x2": {"field": "d2"},
  "y": {"field": "r1", "type": "quantitative", "title": null},
  "y2": {"field": "r2"}
 }}
]
}
]
}
